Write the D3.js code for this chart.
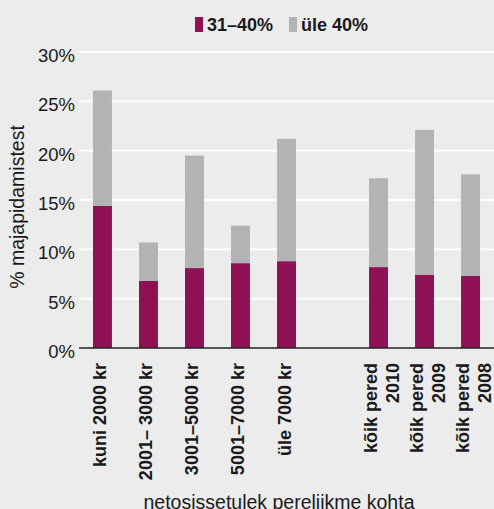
<!DOCTYPE html>
<html><head><meta charset="utf-8">
<script src="https://cdn.jsdelivr.net/npm/d3@7"></script>
<style>
html,body{margin:0;padding:0;background:#EBECEB;}
svg{display:block;font-family:"Liberation Sans",Arial,Helvetica,sans-serif;}
</style></head>
<body>
<svg id="chart" width="494" height="509"></svg>
<script>
const categories = [
  ["kuni 2000 kr"], ["2001– 3000 kr"], ["3001–5000 kr"], ["5001–7000 kr"], ["üle 7000 kr"],
  null,
  ["kõik pered", "2010"], ["kõik pered", "2009"], ["kõik pered", "2008"]
];
const series31to40 = [14.4, 6.8, 8.1, 8.6, 8.8, null, 8.2, 7.4, 7.3];
const seriesOver40 = [11.7, 3.9, 11.4, 3.8, 12.4, null, 9.0, 14.7, 10.3];
const seriesNames = ["31–40%", "üle 40%"];
const yTicks = [0, 5, 10, 15, 20, 25, 30];
const colors = ["#8E1153", "#B2B3B4"];

const svg = d3.select("#chart");
const W = 494, H = 509;
svg.append("rect").attr("width", W).attr("height", H).attr("fill", "#EBECEB");

const x = d3.scaleBand().domain(d3.range(categories.length)).range([79, 494])
  .paddingInner(0.588).paddingOuter(0.304);
const y = d3.scaleLinear().domain([0, 30]).range([348, 52]);

// gridlines
svg.append("g").selectAll("line").data(yTicks.filter(d => d > 0)).join("line")
  .attr("x1", 79).attr("x2", W).attr("y1", d => y(d)).attr("y2", d => y(d))
  .attr("stroke", "#FFFFFF").attr("stroke-width", 2);

// tick labels
svg.append("g").selectAll("text").data(yTicks).join("text")
  .attr("x", 75).attr("y", d => y(d) + 10)
  .attr("text-anchor", "end").attr("font-size", 18.5).attr("fill", "#1a1a1a")
  .text(d => d + "%");

// bars
const rows = categories.map((c, i) => ({i, c, a: series31to40[i], b: seriesOver40[i]})).filter(d => d.c);
const g = svg.append("g");
g.selectAll("rect.a").data(rows).join("rect").attr("class", "a")
  .attr("x", d => x(d.i)).attr("width", x.bandwidth())
  .attr("y", d => y(d.a)).attr("height", d => y(0) - y(d.a))
  .attr("fill", colors[0]);
g.selectAll("rect.b").data(rows).join("rect").attr("class", "b")
  .attr("x", d => x(d.i)).attr("width", x.bandwidth())
  .attr("y", d => y(d.a + d.b)).attr("height", d => y(d.a) - y(d.a + d.b))
  .attr("fill", colors[1]);

// baseline
svg.append("line").attr("x1", 79).attr("x2", W).attr("y1", y(0)).attr("y2", y(0))
  .attr("stroke", "#222").attr("stroke-width", 1.6);

// x labels
const xl = svg.append("g");
rows.forEach(d => {
  const cx = x(d.i) + x.bandwidth() / 2;
  d.c.forEach((line, k) => {
    const off = d.c.length === 1 ? 4 : (k === 0 ? -1.5 : 20.5);
    xl.append("text")
      .attr("transform", `translate(${cx + off},363) rotate(-90)`)
      .attr("text-anchor", "end").attr("font-size", 18).attr("font-weight", "bold")
      .attr("fill", "#1a1a1a").text(line);
  });
});

// axis titles
svg.append("text").attr("transform", "translate(24,207) rotate(-90)")
  .attr("text-anchor", "middle").attr("font-size", 19.5).attr("fill", "#1a1a1a")
  .text("% majapidamistest");
svg.append("text").attr("x", 279).attr("y", 509)
  .attr("text-anchor", "middle").attr("font-size", 19.5).attr("fill", "#1a1a1a")
  .text("netosissetulek pereliikme kohta");

// legend
const legX = [195, 289];
const lg = svg.append("g");
seriesNames.forEach((n, k) => {
  lg.append("rect").attr("x", legX[k]).attr("y", 17).attr("width", 8).attr("height", 15).attr("fill", colors[k]);
  lg.append("text").attr("x", legX[k] + 12).attr("y", 31).attr("font-size", 18).attr("font-weight", "bold")
    .attr("fill", "#1a1a1a").text(n);
});
</script>
</body></html>
